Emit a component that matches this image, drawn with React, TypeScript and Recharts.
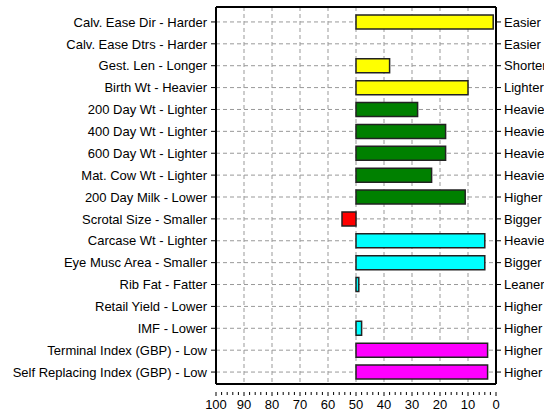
import { BarChart, Bar, XAxis, YAxis, CartesianGrid, Cell } from "recharts"

// trait names (left axis) and the opposite direction (right axis)
const traits = [
  "Calv. Ease Dir - Harder",
  "Calv. Ease Dtrs - Harder",
  "Gest. Len - Longer",
  "Birth Wt - Heavier",
  "200 Day Wt - Lighter",
  "400 Day Wt - Lighter",
  "600 Day Wt - Lighter",
  "Mat. Cow Wt - Lighter",
  "200 Day Milk - Lower",
  "Scrotal Size - Smaller",
  "Carcase Wt - Lighter",
  "Eye Musc Area - Smaller",
  "Rib Fat - Fatter",
  "Retail Yield - Lower",
  "IMF - Lower",
  "Terminal Index (GBP) - Low",
  "Self Replacing Index (GBP) - Low",
]

const opposites = [
  "Easier", "Easier", "Shorter", "Lighter", "Heavier", "Heavier", "Heavier", "Heavier",
  "Higher", "Bigger", "Heavier", "Bigger", "Leaner", "Higher", "Higher", "Higher", "Higher",
]

// percentile band each bar reaches (bars start at 50), null = no bar
const percentiles = [1, null, 38, 10, 28, 18, 18, 23, 11, 55, 4, 4, 49, null, 48, 3, 3]

const colors = [
  "#ffff00", "#ffff00", "#ffff00", "#ffff00",
  "#008000", "#008000", "#008000", "#008000", "#008000", "#ff0000",
  "#00ffff", "#00ffff", "#00ffff", "#00ffff", "#00ffff",
  "#ff00ff", "#ff00ff",
]

const majorTicks = [0, 10, 20, 30, 40, 50, 60, 70, 80, 90, 100]
const minorTicks = Array.from({ length: 51 }, (_, i) => i * 2)

const chartData = traits.map((trait, i) => ({
  trait,
  value: percentiles[i],
}))

const FONT = "Liberation Sans, Arial, sans-serif"

// bottom axis: minor tick every 2, label every 10
const XTick = (props: any) => {
  const { x, y, payload } = props
  const major = payload.value % 10 === 0
  return (
    <g>
      <line x1={x} x2={x} y1={y} y2={y + (major ? 4 : 3)} stroke="#000" />
      {major && (
        <text x={x} y={y + 17} textAnchor="middle" fontFamily={FONT} fontSize={13} fill="#000">
          {payload.value}
        </text>
      )}
    </g>
  )
}

// plain text ticks so long names don't wrap
const LeftTick = (props: any) => {
  const { x, y, payload } = props
  return (
    <text x={x} y={y} dy="0.36em" textAnchor="end" fontFamily={FONT} fontSize={13} fill="#000">
      {payload.value}
    </text>
  )
}

const RightTick = (props: any) => {
  const { x, y, index } = props
  return (
    <text x={x} y={y} dy="0.36em" textAnchor="start" fontFamily={FONT} fontSize={13} fill="#000">
      {opposites[index]}
    </text>
  )
}

// vertical grid only on the 10s (axis is reversed: 100 on the left)
const gridX = ({ offset }: any) =>
  majorTicks.map((t) => offset.left + ((100 - t) / 100) * offset.width)

export default function App() {
  return (
    <div style={{ position: "absolute", left: 0, top: 0, background: "#fff" }}>
      <BarChart
        width={544}
        height={412}
        data={chartData}
        layout="vertical"
        margin={{ top: 6, right: 0, bottom: 0, left: 0 }}
        barCategoryGap={0}
      >
        <CartesianGrid stroke="#999" strokeDasharray="4 3" verticalCoordinatesGenerator={gridX} />
        <XAxis
          type="number"
          domain={[0, 100]}
          reversed
          ticks={minorTicks}
          interval={0}
          height={28}
          tickLine={false}
          tick={<XTick />}
          axisLine={{ stroke: "#000", strokeWidth: 2 }}
        />
        <XAxis
          xAxisId="top"
          orientation="top"
          type="number"
          domain={[0, 100]}
          height={1}
          tick={false}
          tickLine={false}
          axisLine={{ stroke: "#000", strokeWidth: 2 }}
        />
        <YAxis
          type="category"
          dataKey="trait"
          width={216}
          interval={0}
          tickSize={5}
          tickMargin={4}
          tick={<LeftTick />}
          stroke="#000"
          padding={{ top: 4, bottom: 1 }}
          axisLine={{ stroke: "#000", strokeWidth: 2 }}
        />
        <YAxis
          yAxisId="right"
          orientation="right"
          type="category"
          dataKey="trait"
          width={48}
          interval={0}
          tickSize={5}
          tickMargin={3}
          tick={<RightTick />}
          stroke="#000"
          padding={{ top: 4, bottom: 1 }}
          axisLine={{ stroke: "#000", strokeWidth: 2 }}
        />
        <Bar
          dataKey={(d: { value: number | null }) => (d.value == null ? null : [50, d.value])}
          barSize={14}
          stroke="#222"
          strokeWidth={1.5}
          isAnimationActive={false}
        >
          {chartData.map((d, i) => (
            <Cell key={d.trait} fill={colors[i]} />
          ))}
        </Bar>
      </BarChart>
    </div>
  )
}
